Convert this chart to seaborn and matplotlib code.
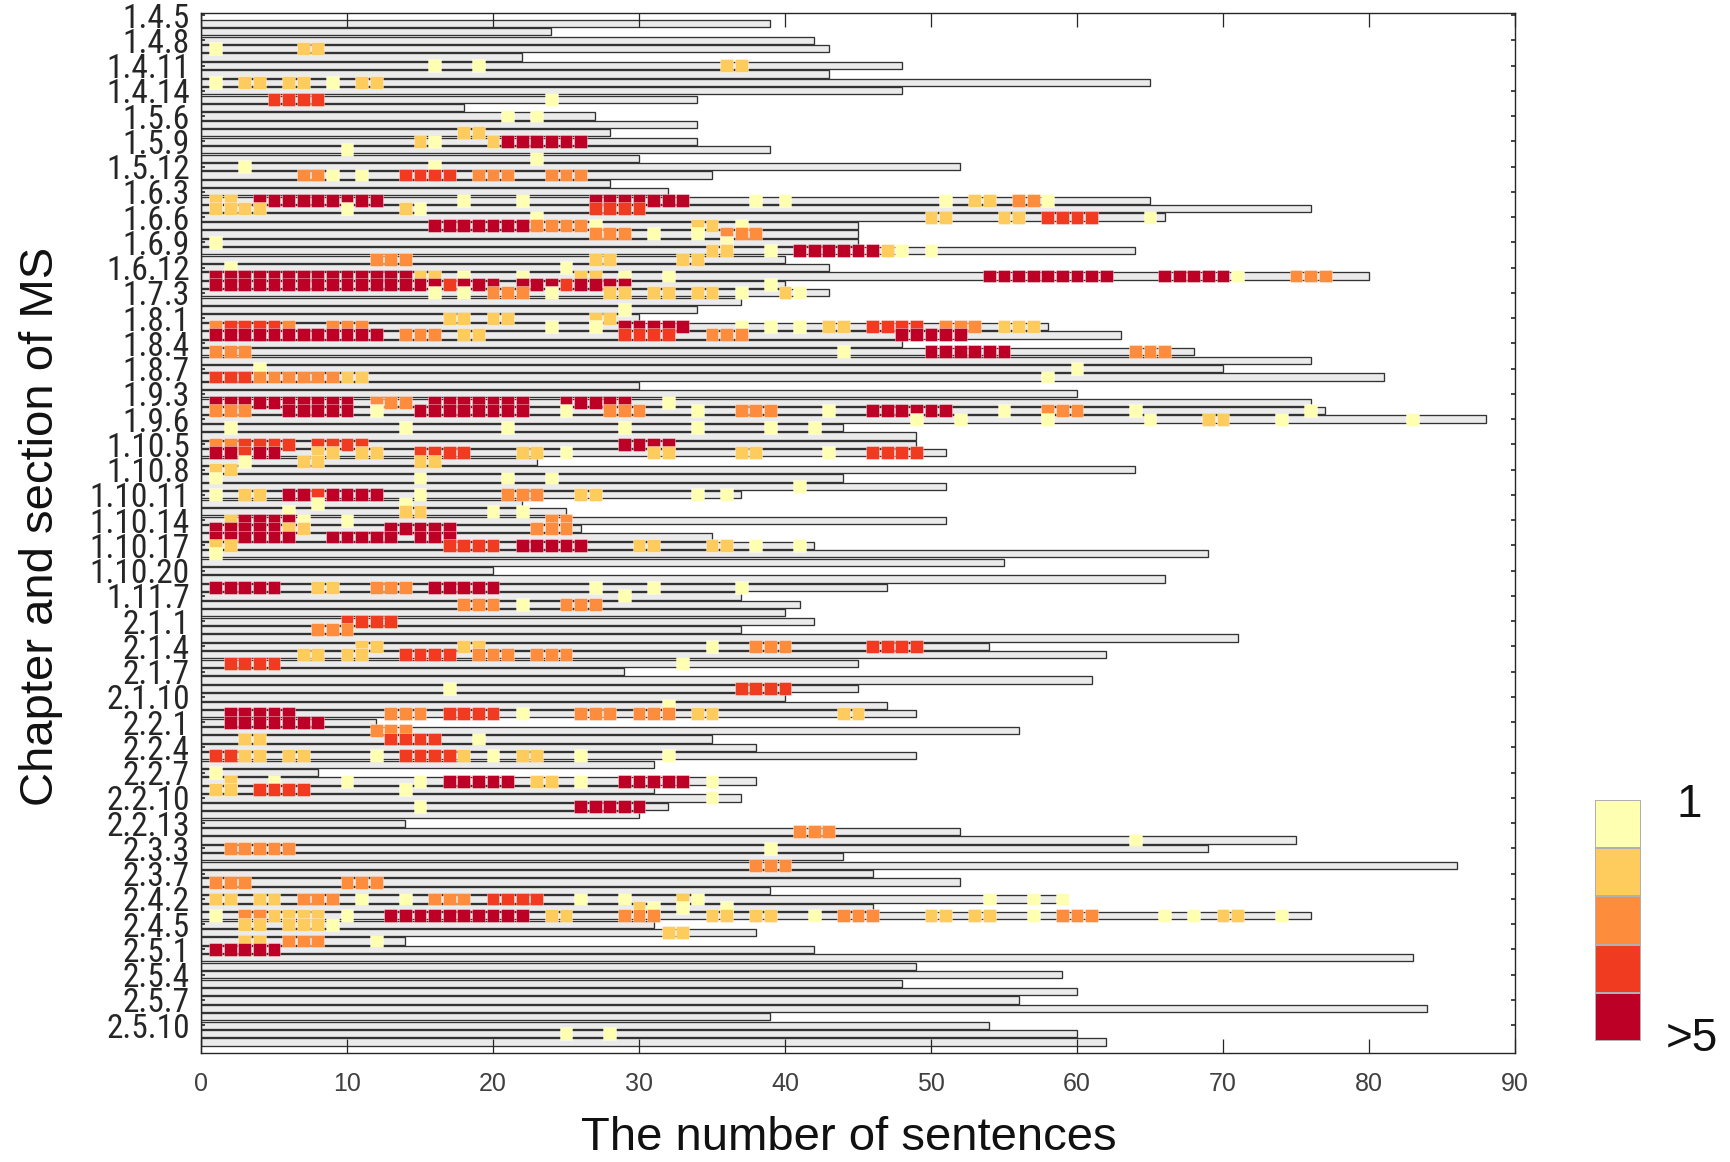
import numpy as np
import pandas as pd
import matplotlib
matplotlib.use("Agg")
import matplotlib.pyplot as plt
from matplotlib import font_manager as fm
from matplotlib.colors import ListedColormap
import seaborn as sns

# ---------------- data ----------------
section_labels = ["1.4.5", "1.4.8", "1.4.11", "1.4.14", "1.5.6", "1.5.9", "1.5.12",
                  "1.6.3", "1.6.6", "1.6.9", "1.6.12", "1.7.3", "1.8.1", "1.8.4",
                  "1.8.7", "1.9.3", "1.9.6", "1.10.5", "1.10.8", "1.10.11", "1.10.14",
                  "1.10.17", "1.10.20", "1.11.7", "2.1.1", "2.1.4", "2.1.7", "2.1.10",
                  "2.2.1", "2.2.4", "2.2.7", "2.2.10", "2.2.13", "2.3.3", "2.3.7",
                  "2.4.2", "2.4.5", "2.5.1", "2.5.4", "2.5.7", "2.5.10"]

# number of sentences per section (row 0 = 1.4.5 at the top edge)
bar_lengths = [0, 39, 24, 42, 43, 22, 48, 43, 65, 48,
               34, 18, 27, 34, 28, 34, 39, 30, 52, 35,
               28, 32, 65, 76, 66, 45, 45, 45, 64, 40,
               43, 80, 40, 43, 37, 34, 30, 58, 63, 48,
               68, 76, 70, 81, 30, 60, 76, 77, 88, 44,
               49, 49, 51, 23, 64, 44, 51, 37, 22, 25,
               51, 26, 35, 42, 69, 55, 20, 66, 47, 37,
               41, 40, 42, 37, 71, 54, 62, 45, 29, 61,
               45, 40, 47, 49, 12, 56, 35, 38, 49, 31,
               8, 38, 31, 37, 32, 30, 14, 52, 75, 69,
               44, 86, 46, 52, 39, 59, 46, 76, 31, 38,
               14, 42, 83, 49, 59, 48, 60, 56, 84, 39,
               54, 60, 62]

# runs of marked sentences: (row, first sentence, last sentence, level 1..5)
runs = [
    (4, 1, 1, 1), (4, 7, 8, 2),
    (6, 16, 16, 1), (6, 19, 19, 1), (6, 36, 37, 2),
    (8, 1, 1, 1), (8, 3, 4, 2), (8, 6, 7, 2), (8, 9, 9, 1), (8, 11, 12, 2),
    (10, 5, 8, 4), (10, 24, 24, 1),
    (12, 21, 21, 1), (12, 23, 23, 1),
    (14, 18, 19, 2),
    (15, 15, 15, 2), (15, 16, 16, 1), (15, 20, 20, 2), (15, 21, 26, 5),
    (16, 10, 10, 1), (17, 23, 23, 1), (18, 3, 3, 1), (18, 16, 16, 1),
    (19, 7, 8, 3), (19, 9, 9, 1), (19, 11, 11, 1), (19, 14, 17, 4), (19, 19, 21, 3), (19, 24, 26, 3),
    (22, 1, 2, 2), (22, 4, 12, 5), (22, 18, 18, 1), (22, 22, 22, 1), (22, 27, 33, 5),
    (22, 38, 38, 1), (22, 40, 40, 1), (22, 51, 51, 1), (22, 53, 54, 2), (22, 56, 57, 3), (22, 58, 58, 1),
    (23, 1, 4, 2), (23, 10, 10, 1), (23, 14, 14, 2), (23, 15, 15, 1), (23, 27, 30, 4),
    (24, 23, 23, 1), (24, 50, 51, 2), (24, 55, 56, 2), (24, 58, 61, 4), (24, 65, 65, 1),
    (25, 16, 22, 5), (25, 23, 26, 3), (25, 27, 27, 1), (25, 34, 35, 2), (25, 37, 37, 1),
    (26, 27, 29, 3), (26, 31, 31, 1), (26, 34, 34, 1), (26, 36, 38, 3),
    (27, 1, 1, 1), (27, 36, 36, 1),
    (28, 35, 36, 2), (28, 39, 39, 1), (28, 41, 46, 5), (28, 47, 47, 2), (28, 48, 48, 1), (28, 50, 50, 1),
    (29, 12, 14, 3), (29, 27, 28, 2), (29, 33, 34, 2),
    (30, 2, 2, 1), (30, 25, 25, 1),
    (31, 1, 14, 5), (31, 15, 16, 2), (31, 18, 18, 1), (31, 22, 22, 1), (31, 26, 27, 2), (31, 29, 29, 1),
    (31, 32, 32, 1), (31, 54, 62, 5), (31, 66, 70, 5), (31, 71, 71, 1), (31, 75, 77, 3),
    (32, 1, 16, 5), (32, 17, 17, 4), (32, 18, 20, 5), (32, 22, 24, 5), (32, 25, 25, 4), (32, 26, 29, 5), (32, 39, 39, 1),
    (33, 16, 16, 1), (33, 18, 18, 1), (33, 20, 22, 3), (33, 24, 24, 1), (33, 28, 29, 2), (33, 31, 32, 2),
    (33, 34, 35, 2), (33, 37, 37, 1), (33, 40, 40, 2), (33, 41, 41, 1),
    (35, 29, 29, 1),
    (36, 17, 18, 2), (36, 20, 21, 2), (36, 27, 28, 2),
    (37, 1, 1, 3), (37, 2, 5, 4), (37, 6, 6, 3), (37, 9, 11, 3), (37, 24, 24, 1), (37, 27, 27, 1), (37, 29, 33, 5),
    (37, 37, 37, 1), (37, 39, 39, 1), (37, 41, 41, 1), (37, 43, 44, 2), (37, 46, 49, 4), (37, 51, 53, 3), (37, 55, 57, 2),
    (38, 1, 12, 5), (38, 14, 16, 3), (38, 18, 19, 2), (38, 29, 32, 4), (38, 35, 37, 3), (38, 48, 52, 5),
    (40, 1, 3, 3), (40, 44, 44, 1), (40, 50, 55, 5), (40, 64, 66, 3),
    (42, 4, 4, 1), (42, 60, 60, 1),
    (43, 1, 3, 4), (43, 4, 9, 3), (43, 10, 11, 2), (43, 58, 58, 1),
    (46, 1, 10, 5), (46, 12, 14, 3), (46, 16, 22, 5), (46, 25, 29, 5), (46, 32, 32, 1),
    (47, 1, 3, 3), (47, 6, 10, 5), (47, 12, 12, 1), (47, 15, 22, 5), (47, 25, 25, 1), (47, 28, 30, 3),
    (47, 34, 34, 1), (47, 37, 39, 3), (47, 43, 43, 1), (47, 46, 51, 5), (47, 55, 55, 1), (47, 58, 60, 3),
    (47, 64, 64, 1), (47, 76, 76, 1),
    (48, 49, 49, 1), (48, 52, 52, 1), (48, 58, 58, 1), (48, 65, 65, 1), (48, 69, 70, 2), (48, 74, 74, 1), (48, 83, 83, 1),
    (49, 2, 2, 1), (49, 14, 14, 1), (49, 21, 21, 1), (49, 29, 29, 1), (49, 34, 34, 1), (49, 39, 39, 1), (49, 42, 42, 1),
    (51, 1, 2, 3), (51, 3, 6, 4), (51, 8, 11, 4), (51, 29, 32, 5),
    (52, 1, 2, 5), (52, 3, 3, 4), (52, 4, 5, 5), (52, 8, 9, 2), (52, 11, 12, 2), (52, 15, 18, 4), (52, 22, 23, 2),
    (52, 25, 25, 1), (52, 31, 32, 2), (52, 37, 38, 2), (52, 43, 43, 1), (52, 46, 49, 4),
    (53, 3, 3, 1), (53, 7, 8, 2), (53, 15, 16, 2),
    (54, 1, 2, 2),
    (55, 1, 1, 1), (55, 15, 15, 1), (55, 21, 21, 1), (55, 24, 24, 1),
    (56, 41, 41, 1),
    (57, 1, 1, 1), (57, 3, 4, 2), (57, 6, 7, 5), (57, 8, 8, 4), (57, 9, 12, 5), (57, 15, 15, 1), (57, 21, 23, 3),
    (57, 26, 27, 2), (57, 34, 34, 1), (57, 36, 36, 1),
    (58, 8, 8, 1), (58, 14, 14, 1),
    (59, 6, 6, 1), (59, 14, 15, 2), (59, 20, 20, 1), (59, 22, 22, 1),
    (60, 2, 2, 2), (60, 3, 6, 5), (60, 7, 7, 1), (60, 10, 10, 1), (60, 24, 25, 3),
    (61, 1, 5, 5), (61, 6, 7, 2), (61, 13, 17, 5), (61, 23, 25, 3),
    (62, 1, 6, 5), (62, 9, 13, 5), (62, 15, 17, 5),
    (63, 1, 2, 2), (63, 17, 20, 4), (63, 22, 26, 5), (63, 30, 31, 2), (63, 35, 36, 2), (63, 38, 38, 1), (63, 41, 41, 1),
    (64, 1, 1, 1),
    (68, 1, 5, 5), (68, 8, 9, 2), (68, 12, 14, 3), (68, 16, 20, 5), (68, 27, 27, 1), (68, 31, 31, 1), (68, 37, 37, 1),
    (69, 29, 29, 1),
    (70, 18, 20, 3), (70, 22, 22, 1), (70, 25, 27, 3),
    (72, 10, 13, 4), (73, 8, 10, 3),
    (75, 11, 12, 2), (75, 18, 19, 2), (75, 35, 35, 1), (75, 38, 40, 3), (75, 46, 49, 4),
    (76, 7, 8, 2), (76, 10, 11, 2), (76, 14, 17, 4), (76, 19, 21, 3), (76, 23, 25, 3),
    (77, 2, 5, 4), (77, 33, 33, 1),
    (80, 17, 17, 1), (80, 37, 40, 4),
    (82, 32, 32, 1),
    (83, 2, 6, 5), (83, 13, 15, 3), (83, 17, 20, 4), (83, 22, 22, 1), (83, 26, 28, 3), (83, 30, 32, 3),
    (83, 34, 35, 2), (83, 44, 45, 2),
    (84, 2, 8, 5),
    (85, 12, 14, 3),
    (86, 3, 4, 2), (86, 13, 16, 4), (86, 19, 19, 1),
    (88, 1, 2, 4), (88, 3, 4, 2), (88, 6, 7, 2), (88, 12, 12, 1), (88, 14, 17, 4), (88, 18, 18, 2), (88, 20, 20, 1),
    (88, 22, 23, 2), (88, 26, 26, 1), (88, 32, 32, 1),
    (90, 1, 1, 1),
    (91, 2, 2, 2), (91, 5, 5, 1), (91, 10, 10, 1), (91, 15, 15, 1), (91, 17, 21, 5), (91, 23, 24, 2),
    (91, 26, 26, 1), (91, 29, 33, 5), (91, 35, 35, 1),
    (92, 1, 2, 2), (92, 4, 7, 4), (92, 14, 14, 1),
    (93, 35, 35, 1),
    (94, 15, 15, 1), (94, 26, 30, 5),
    (97, 41, 43, 3), (98, 64, 64, 1),
    (99, 2, 6, 3), (99, 39, 39, 1),
    (101, 38, 40, 3),
    (103, 1, 3, 3), (103, 10, 12, 3),
    (105, 1, 2, 2), (105, 4, 5, 2), (105, 7, 9, 3), (105, 11, 11, 1), (105, 14, 14, 1), (105, 16, 18, 3),
    (105, 20, 23, 4), (105, 26, 26, 1), (105, 29, 29, 1), (105, 33, 33, 2), (105, 34, 34, 1),
    (105, 54, 54, 1), (105, 57, 57, 1), (105, 59, 59, 1),
    (106, 30, 30, 2), (106, 31, 31, 1), (106, 33, 33, 1), (106, 36, 36, 1),
    (107, 1, 1, 1), (107, 3, 4, 3), (107, 5, 8, 2), (107, 10, 10, 1), (107, 13, 22, 5), (107, 24, 25, 2),
    (107, 29, 31, 3), (107, 35, 36, 2), (107, 38, 39, 2), (107, 42, 42, 1), (107, 44, 46, 3), (107, 50, 51, 2),
    (107, 53, 54, 2), (107, 57, 57, 1), (107, 59, 61, 3), (107, 66, 66, 1), (107, 68, 68, 1), (107, 70, 71, 2),
    (107, 74, 74, 1),
    (108, 3, 4, 2), (108, 6, 8, 2), (108, 9, 9, 1),
    (109, 32, 33, 2),
    (110, 3, 4, 2), (110, 6, 8, 3), (110, 12, 12, 1),
    (111, 1, 5, 5),
    (121, 25, 25, 1), (121, 28, 28, 1),
]

level_colors = ["#ffffb2", "#fecc5c", "#fd8d3c", "#f03b20", "#bd0026"]
colorbar_labels = ["1", ">5"]
x_ticks = [0, 10, 20, 30, 40, 50, 60, 70, 80, 90]

# ---------------- style ----------------
sns.set_style("white")
names = {f.name for f in fm.fontManager.ttflist}
main_font = "Liberation Sans" if "Liberation Sans" in names else "DejaVu Sans"
plt.rcParams["font.family"] = [main_font, "DejaVu Sans"]

# look for a narrow face for the section labels
narrow_prop = None
for nm in ["Liberation Sans Narrow", "Arial Narrow", "Roboto Condensed",
           "Open Sans Condensed", "Noto Sans Condensed", "DejaVu Sans Condensed"]:
    if nm in names:
        narrow_prop = {"fontfamily": nm}
        break
if narrow_prop is None:
    for f in fm.fontManager.ttflist:
        st = str(f.stretch).lower()
        if st in ("condensed", "semi-condensed", "extra-condensed") and \
                f.name in ("Roboto", "Open Sans", "Noto Sans", "DejaVu Sans", "Liberation Sans", "Lato", "Inter"):
            narrow_prop = {"fontfamily": f.name, "fontstretch": st}
            break
if narrow_prop is None:
    narrow_prop = {"fontfamily": main_font}
    label_size = 23
else:
    label_size = 24

W, H = 1731, 1162
fig = plt.figure(figsize=(W / 100, H / 100), dpi=100)
ax = fig.add_axes([201 / W, 1 - 1053 / H, (1515 - 201) / W, (1053 - 13) / H])

n_rows = len(bar_lengths)
rows = np.arange(n_rows)

# bars
ax.barh(rows, bar_lengths, height=0.86, left=0, color="#ebebeb",
        edgecolor="#333333", linewidth=0.95, zorder=1)

# cells
recs = []
for r, a, b, lvl in runs:
    for s in range(a, b + 1):
        recs.append({"row": r, "sentence": s, "level": lvl})
cells = pd.DataFrame(recs)
palette = {i + 1: c for i, c in enumerate(level_colors)}
sns.scatterplot(data=cells, x="sentence", y="row", hue="level", palette=palette,
                marker="s", s=86, linewidth=0.6, edgecolor=(1, 1, 1, 0.45),
                legend=False, ax=ax, zorder=3)

ax.set_xlim(0, 90)
ax.set_ylim(123.3, -0.24)

ax.set_xticks(x_ticks)
ax.set_xticklabels([str(v) for v in x_ticks])
ax.set_yticks(np.arange(0, 3 * len(section_labels), 3))
ax.set_yticklabels(section_labels, fontsize=label_size, color="#262626", **narrow_prop)
ax.tick_params(axis="x", direction="in", length=10, width=0.9, top=True, bottom=True,
               labelsize=18, labelcolor="#404040", pad=14, color="#262626")
ax.tick_params(axis="y", direction="in", length=3, width=1.2, left=True, right=True,
               pad=8, color="#262626")
ax.set_axisbelow(False)
for sp in ax.spines.values():
    sp.set_visible(True)
    sp.set_linewidth(1.0)
    sp.set_color("#262626")
    sp.set_zorder(5)

ax.set_xlabel("The number of sentences", fontsize=34, color="#111111")
ax.xaxis.label.set_va("center")
ax.xaxis.set_label_coords((849 - 201) / 1314, -(1138 - 1053) / 1040)
ax.set_ylabel("Chapter and section of MS", fontsize=34, color="#111111")
ax.yaxis.label.set_va("center")
ax.yaxis.set_label_coords(-(201 - 41) / 1314, 0.506)

# discrete colour key
cax = fig.add_axes([1595 / W, 1 - 1041 / H, 46 / W, 241 / H])
sns.heatmap(np.arange(1, 6).reshape(5, 1), cmap=ListedColormap(level_colors),
            cbar=False, linewidths=1.2, linecolor="#b0b0b0",
            xticklabels=False, yticklabels=False, ax=cax)
cax.text(2.05, 0.1, colorbar_labels[0], fontsize=33, ha="center", va="center",
         transform=cax.transData, color="#111111", clip_on=False)
cax.text(2.1, 4.95, colorbar_labels[1], fontsize=33, ha="center", va="center",
         transform=cax.transData, color="#111111", clip_on=False)

fig.savefig("out.png", dpi=100)
